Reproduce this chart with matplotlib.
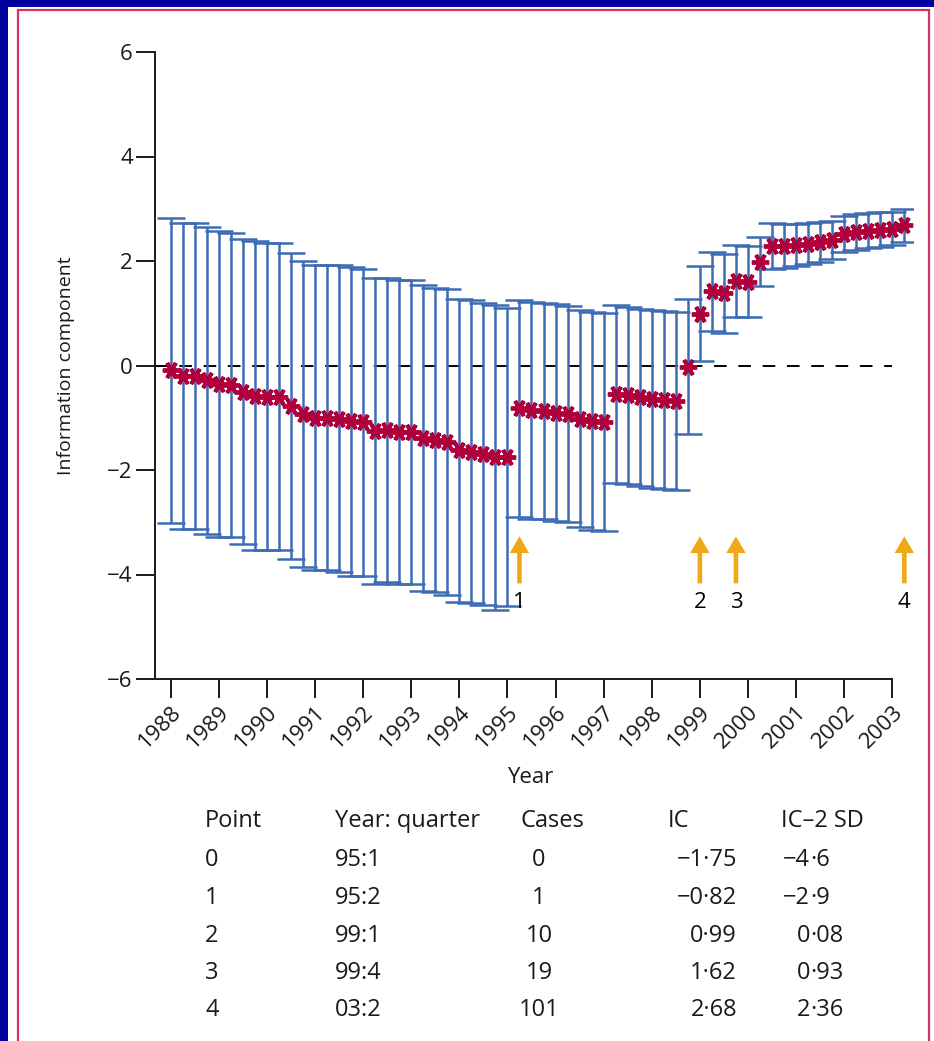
import numpy as np
import matplotlib
matplotlib.use('Agg')
import matplotlib.pyplot as plt
from matplotlib.patches import Rectangle

# Quarterly information component, 1988 Q1 .. 2003 Q2
start_year = 1988
ic = [-0.09, -0.20, -0.20, -0.28, -0.36, -0.38, -0.50, -0.58, -0.60, -0.60,
      -0.77, -0.93, -1.00, -1.00, -1.02, -1.07, -1.09, -1.25, -1.24, -1.27,
      -1.27, -1.38, -1.43, -1.46, -1.62, -1.65, -1.69, -1.76, -1.75,
      -0.82, -0.86, -0.87, -0.90, -0.93, -1.02, -1.06, -1.08,
      -0.54, -0.57, -0.61, -0.64, -0.66, -0.68,
      -0.02, 0.99, 1.42, 1.38, 1.62, 1.60, 1.99,
      2.28, 2.28, 2.30, 2.33, 2.36, 2.40, 2.52, 2.56, 2.58, 2.60, 2.62, 2.68]
# IC - 2 SD (lower end of the bars)
ic_lower = [-3.01, -3.13, -3.13, -3.22, -3.29, -3.29, -3.42, -3.54, -3.54, -3.54,
            -3.70, -3.86, -3.92, -3.92, -3.96, -4.02, -4.02, -4.18, -4.15, -4.18,
            -4.18, -4.31, -4.34, -4.39, -4.52, -4.55, -4.58, -4.67, -4.60,
            -2.90, -2.94, -2.94, -2.97, -3.00, -3.10, -3.14, -3.16,
            -2.24, -2.26, -2.31, -2.34, -2.36, -2.38,
            -1.32, 0.08, 0.66, 0.63, 0.93, 0.92, 1.52,
            1.84, 1.86, 1.90, 1.94, 1.98, 2.03, 2.18, 2.22, 2.24, 2.26, 2.30, 2.36]

year_ticks = list(range(1988, 2004))

# highlighted points (arrows) and table
point_ids = [0, 1, 2, 3, 4]
point_quarters = ['95:1', '95:2', '99:1', '99:4', '03:2']
arrow_points = [1, 2, 3, 4]
point_cases = [0, 1, 10, 19, 101]
point_ic = ['\u22121\u00b775', '\u22120\u00b782', '0\u00b799', '1\u00b762', '2\u00b768']
point_ic_2sd = ['\u22124\u00b76', '\u22122\u00b79', '0\u00b708', '0\u00b793', '2\u00b736']

plt.rcParams['font.family'] = ['Open Sans', 'DejaVu Sans']

W, H = 934, 1041
bar_blue = '#3d6cb5'
mark_red = '#b0003c'
arrow_orange = '#f0a818'
frame_blue = '#00009c'
frame_pink = '#d03464'
ink = '#1a1a1a'

fig = plt.figure(figsize=(W / 100, H / 100), dpi=100, facecolor=frame_blue)

# white panel with thin pink frame (bottom runs off the picture)
fig.patches.append(Rectangle((8 / W, 0), 1, 1 - 7 / H, transform=fig.transFigure,
                             facecolor='white', edgecolor='none', zorder=-3))
fig.patches.append(Rectangle((18 / W, -20 / H), (929 - 18) / W, (1061 - 10) / H,
                             transform=fig.transFigure, facecolor='none',
                             edgecolor=frame_pink, linewidth=1.6, zorder=-2))

ax = fig.add_axes([155 / W, 1 - 679 / H, (913 - 155) / W, (679 - 52) / H])
ax.set_facecolor('none')
ax.set_zorder(2)

ic_arr = np.array(ic)
lo_arr = np.array(ic_lower)
x = start_year + np.arange(len(ic)) / 4.0

x_left, x_right = 1987.674, 2003.43
ax.plot([x_left, 2003], [0, 0], color='black', lw=1.4, dashes=(6.5, 6), zorder=1)

ax.errorbar(x, ic_arr, yerr=ic_arr - lo_arr, fmt='none', ecolor=bar_blue,
            elinewidth=1.8, capsize=10, capthick=1.8, zorder=2)
ax.plot(x, ic_arr, linestyle='none', marker=(6, 2, 90), markersize=12.5,
        markeredgewidth=2.8, color=mark_red, zorder=3)

# arrows marking the points in the table
for p in arrow_points:
    yy, qq = point_quarters[p].split(':')
    xp = (2000 + int(yy) if int(yy) < 50 else 1900 + int(yy)) + (int(qq) - 1) / 4.0
    ax.annotate('', xy=(xp, -3.27), xytext=(xp, -4.17),
                arrowprops=dict(facecolor=arrow_orange, edgecolor='none',
                                width=3.3, headwidth=14, headlength=12))
    ax.text(xp, -4.33, str(point_ids[p]), ha='center', va='top', fontsize=16,
            color='black')

ax.set_xlim(x_left, x_right)
ax.set_ylim(-6, 6)
ax.set_yticks([-6, -4, -2, 0, 2, 4, 6])
ax.set_xticks(year_ticks)
ax.set_xticklabels([str(y) for y in year_ticks], rotation=45, ha='right',
                   va='top', rotation_mode='anchor')
ax.tick_params(axis='both', direction='out', length=14, width=1.4, color=ink,
               labelsize=16, labelcolor=ink, pad=2)

for s in ['top', 'right']:
    ax.spines[s].set_visible(False)
ax.spines['left'].set_bounds(-6, 6)
ax.spines['bottom'].set_bounds(x_left, 2003)
for s in ['left', 'bottom']:
    ax.spines[s].set_linewidth(1.4)
    ax.spines[s].set_color(ink)

ax.set_ylabel('Information component', fontsize=14, color=ink)
ax.yaxis.set_label_coords(-0.105, 0.5)
ax.set_xlabel('Year', fontsize=16, color=ink)
ax.xaxis.set_label_coords(0.495, -0.141)

# table below the chart
def fx(px):
    return px / W

def fy(py):
    return 1 - py / H

fs = 17
header_y = 821
row_y = [860, 898, 936, 973, 1010]
fig.text(fx(205), fy(header_y), 'Point', fontsize=fs, va='center', ha='left', color=ink)
fig.text(fx(335), fy(header_y), 'Year: quarter', fontsize=fs, va='center', ha='left', color=ink)
fig.text(fx(521), fy(header_y), 'Cases', fontsize=fs, va='center', ha='left', color=ink)
fig.text(fx(668), fy(header_y), 'IC', fontsize=fs, va='center', ha='left', color=ink)
fig.text(fx(781), fy(header_y), 'IC\u20132 SD', fontsize=fs, va='center', ha='left', color=ink)

for i, yv in enumerate(row_y):
    fig.text(fx(205), fy(yv), str(point_ids[i]), fontsize=fs, va='center', ha='left', color=ink)
    fig.text(fx(335), fy(yv), point_quarters[i], fontsize=fs, va='center', ha='left', color=ink)
    fig.text(fx(539), fy(yv), str(point_cases[i]), fontsize=fs, va='center', ha='center', color=ink)
    fig.text(fx(737), fy(yv), point_ic[i], fontsize=fs, va='center', ha='right', color=ink)
    whole, frac = point_ic_2sd[i].split('\u00b7')
    fig.text(fx(810), fy(yv), whole, fontsize=fs, va='center', ha='right', color=ink)
    fig.text(fx(810), fy(yv), '\u00b7' + frac, fontsize=fs, va='center', ha='left', color=ink)

fig.savefig('out.png', dpi=100, facecolor=frame_blue)
